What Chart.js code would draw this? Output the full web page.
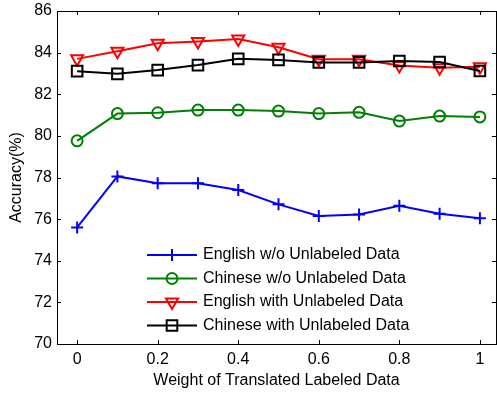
<!DOCTYPE html>
<html>
<head>
<meta charset="utf-8">
<script src="https://cdn.jsdelivr.net/npm/chart.js@4/dist/chart.umd.min.js"></script>
<style>
html,body{margin:0;padding:0;background:#fff;}
#wrap{width:497px;height:394px;position:relative;}
</style>
</head>
<body>
<div id="wrap"><canvas id="c" width="497" height="394"></canvas></div>
<script>
const weights = [0, 0.1, 0.2, 0.3, 0.4, 0.5, 0.6, 0.7, 0.8, 0.9, 1.0];
const englishWo = [75.6, 78.05, 77.72, 77.72, 77.4, 76.71, 76.15, 76.22, 76.64, 76.26, 76.04];
const chineseWo = [79.76, 81.07, 81.11, 81.24, 81.24, 81.19, 81.07, 81.13, 80.71, 80.95, 80.91];
const englishWith = [83.7, 84.07, 84.45, 84.54, 84.65, 84.26, 83.68, 83.68, 83.38, 83.27, 83.32];
const chineseWith = [83.11, 82.98, 83.16, 83.4, 83.7, 83.65, 83.53, 83.53, 83.6, 83.55, 83.12];
const seriesNames = ['English w/o Unlabeled Data', 'Chinese w/o Unlabeled Data', 'English with Unlabeled Data', 'Chinese with Unlabeled Data'];
const xTicks = [0, 0.2, 0.4, 0.6, 0.8, 1];
const yTicks = [70, 72, 74, 76, 78, 80, 82, 84, 86];

const FONT = 'Liberation Sans, Arial, sans-serif';

function pts(arr){ return arr.map((v,i)=>({x:weights[i], y:v})); }

const styles = [
  {color:'#0000ff', point:'cross', r:6, rot:0, order:3},
  {color:'#008000', point:'circle', r:5.5, rot:0, order:2},
  {color:'#ff0000', point:'triangle', r:7, rot:180, order:1},
  {color:'#000000', point:'rect', r:7.5, rot:0, order:0}
];
const allData = [englishWo, chineseWo, englishWith, chineseWith];

const datasets = allData.map((d,i)=>({
  label: seriesNames[i],
  data: pts(d),
  borderColor: styles[i].color,
  backgroundColor: 'rgba(0,0,0,0)',
  borderWidth: 2,
  pointStyle: styles[i].point,
  pointRadius: styles[i].r,
  pointRotation: styles[i].rot,
  pointBorderColor: styles[i].color,
  pointBackgroundColor: 'rgba(0,0,0,0)',
  pointBorderWidth: 2,
  tension: 0,
  clip: false,
  order: styles[i].order
}));

const framePlugin = {
  id: 'frame',
  afterDatasetsDraw(chart){
    const ctx = chart.ctx;
    const a = chart.chartArea;
    const xs = chart.scales.x, ys = chart.scales.y;
    ctx.save();
    ctx.strokeStyle = '#000';
    ctx.lineWidth = 1;
    ctx.strokeRect(Math.round(a.left)+0.5, Math.round(a.top)+0.5, Math.round(a.right-a.left), Math.round(a.bottom-a.top));
    const tl = 4;
    ctx.beginPath();
    xTicks.forEach(v=>{
      const px = Math.round(xs.getPixelForValue(v))+0.5;
      ctx.moveTo(px, a.bottom); ctx.lineTo(px, a.bottom - tl);
      ctx.moveTo(px, a.top); ctx.lineTo(px, a.top + tl);
    });
    yTicks.forEach(v=>{
      const py = Math.round(ys.getPixelForValue(v))+0.5;
      ctx.moveTo(a.left, py); ctx.lineTo(a.left + tl, py);
      ctx.moveTo(a.right, py); ctx.lineTo(a.right - tl, py);
    });
    ctx.stroke();

    // legend
    const lx0 = 147, lx1 = 197, tx = 203, y0 = 255, dy = 23.5;
    ctx.font = '16px ' + FONT;
    ctx.textBaseline = 'middle';
    ctx.textAlign = 'left';
    chart.data.datasets.forEach((ds,i)=>{
      const y = y0 + dy*i;
      ctx.strokeStyle = ds.borderColor;
      ctx.lineWidth = 2;
      ctx.beginPath(); ctx.moveTo(lx0, y); ctx.lineTo(lx1, y); ctx.stroke();
      ctx.fillStyle = 'rgba(0,0,0,0)';
      Chart.helpers.drawPoint(ctx, {
        pointStyle: ds.pointStyle, radius: ds.pointRadius, rotation: ds.pointRotation, borderWidth: 2
      }, (lx0+lx1)/2, y);
      ctx.fillStyle = '#000';
      ctx.fillText(ds.label, tx, y);
    });
    ctx.restore();
  }
};

new Chart(document.getElementById('c'), {
  type: 'line',
  data: { datasets },
  options: {
    responsive: false,
    animation: false,
    layout: { autoPadding: false, padding: { top: 11, right: 1, left: 0, bottom: 0 } },
    plugins: { legend: { display: false }, tooltip: { enabled: false } },
    scales: {
      x: {
        type: 'linear',
        min: -0.05, max: 1.04,
        afterBuildTicks(scale){ scale.ticks = xTicks.map(v=>({value:v})); },
        afterFit(scale){ scale.height = 50; scale.paddingLeft = 0; scale.paddingRight = 0; },
        grid: { display: false, drawTicks: false },
        border: { display: false },
        ticks: {
          color: '#000', padding: 6, maxRotation: 0, autoSkip: false,
          font: { family: FONT, size: 16 },
          callback: v => String(v)
        },
        title: { display: true, text: 'Weight of Translated Labeled Data', color: '#000',
          font: { family: FONT, size: 16 }, padding: { top: 0, bottom: 4 } }
      },
      y: {
        min: 70, max: 86,
        afterBuildTicks(scale){ scale.ticks = yTicks.map(v=>({value:v})); },
        afterFit(scale){ scale.width = 57; scale.paddingTop = 0; scale.paddingBottom = 0; },
        grid: { display: false, drawTicks: false },
        border: { display: false },
        ticks: {
          color: '#000', padding: 5, autoSkip: false,
          font: { family: FONT, size: 16 },
          callback: v => String(v)
        },
        title: { display: true, text: 'Accuracy(%)', color: '#000',
          font: { family: FONT, size: 16 }, padding: { top: 7, bottom: 0 } }
      }
    }
  },
  plugins: [framePlugin]
});
</script>
</body>
</html>
